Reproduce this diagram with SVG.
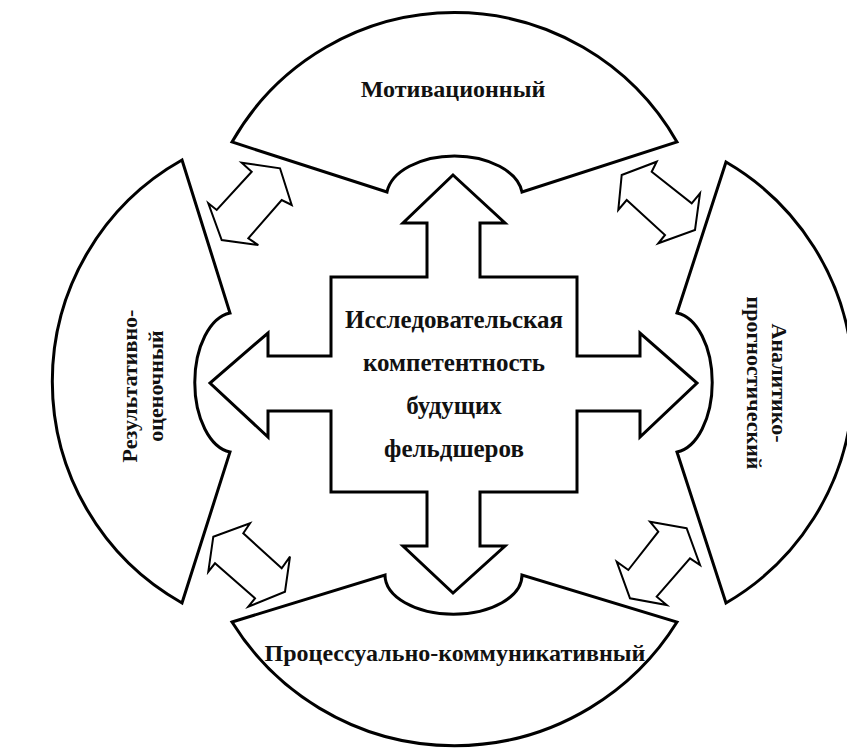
<svg xmlns="http://www.w3.org/2000/svg" width="847" height="748" viewBox="0 0 847 748">
<style>
.sec{fill:#fff;stroke:#000;stroke-width:3;stroke-linejoin:miter}
.cross{fill:#fff;stroke:#000;stroke-width:3;stroke-linejoin:miter}
.dbl{fill:#fff;stroke:#000;stroke-width:2;stroke-linejoin:miter}
.t{font-family:"Liberation Serif","Times New Roman",serif;font-weight:bold;fill:#111;text-anchor:middle}
</style>
<rect x="0" y="0" width="847" height="748" fill="#fff"/>
<g id="sector-top">
<path class="sec" d="M232 142 A256 256 0 0 1 677 142 L522 192 A68 41 0 0 0 387 192 Z"/>
<text class="t" x="453" y="97" font-size="24">Мотивационный</text>
</g>
<g id="sector-left">
<path class="sec" d="M182 160 L230 313 A40 70 0 0 0 230 452 L182 603 A254 254 0 0 1 182 160 Z"/>
<text class="t" font-size="22" transform="translate(137,386) rotate(-90)"><tspan x="0" y="0">Результативно-</tspan><tspan x="0" y="26">оценочный</tspan></text>
</g>
<g id="sector-right">
<path class="sec" d="M726 162 A255 255 0 0 1 726 603 L677 452 A40 70 0 0 0 677 313 Z"/>
<text class="t" font-size="22" transform="translate(772,383) rotate(90)"><tspan x="0" y="0">Аналитико-</tspan><tspan x="0" y="25">прогностический</tspan></text>
</g>
<g id="sector-bottom">
<path class="sec" d="M232 622 L385 575 A68 39 0 0 0 522 575 L677 622 A262 262 0 0 1 232 622 Z"/>
<text class="t" x="455" y="661" font-size="24">Процессуально-коммуникативный</text>
</g>
<g id="center">
<path class="cross" d="M453 175 L505 223 L480 223 L480 277 L577 277 L577 356 L640 356 L640 333 L697 383 L640 437 L640 411 L577 411 L577 492 L480 492 L480 546 L505 546 L453 593 L403 546 L427 546 L427 492 L331 492 L331 411 L268 411 L268 437 L210 383 L268 333 L268 356 L331 356 L331 277 L427 277 L427 223 L403 223 Z"/>
<text class="t" font-size="25" x="454" y="328">Исследовательская</text>
<text class="t" font-size="25" x="454" y="371">компетентность</text>
<text class="t" font-size="25" x="454" y="414">будущих</text>
<text class="t" font-size="25" x="454" y="457">фельдшеров</text>
</g>
<g id="connectors">
<path class="dbl" d="M280 168.3 L291.7 205 L281.7 200 L248.3 238.3 L258.3 245 L221.7 240 L208.3 203.3 L216.7 210 L251.7 171.7 L241.7 162.7 Z"/>
<path class="dbl" d="M621.7 175 L656.7 161.7 L651.7 171.7 L691.7 203.3 L700 193.3 L695 230 L658.3 243.3 L665 235 L626.7 200 L618.3 210 Z"/>
<path class="dbl" d="M213.3 536.7 L250 523.3 L243.3 533.3 L281.7 568.3 L290 556.7 L285 591.7 L248.3 606.7 L255 598.3 L215 563.3 L208.3 571.7 Z"/>
<path class="dbl" d="M686.7 528.3 L650 521.7 L658.3 531.7 L628.3 570 L616.7 561.7 L630 598.3 L666.7 605 L656.7 596.7 L690 558.3 L700 565 Z"/>
</g>
</svg>
